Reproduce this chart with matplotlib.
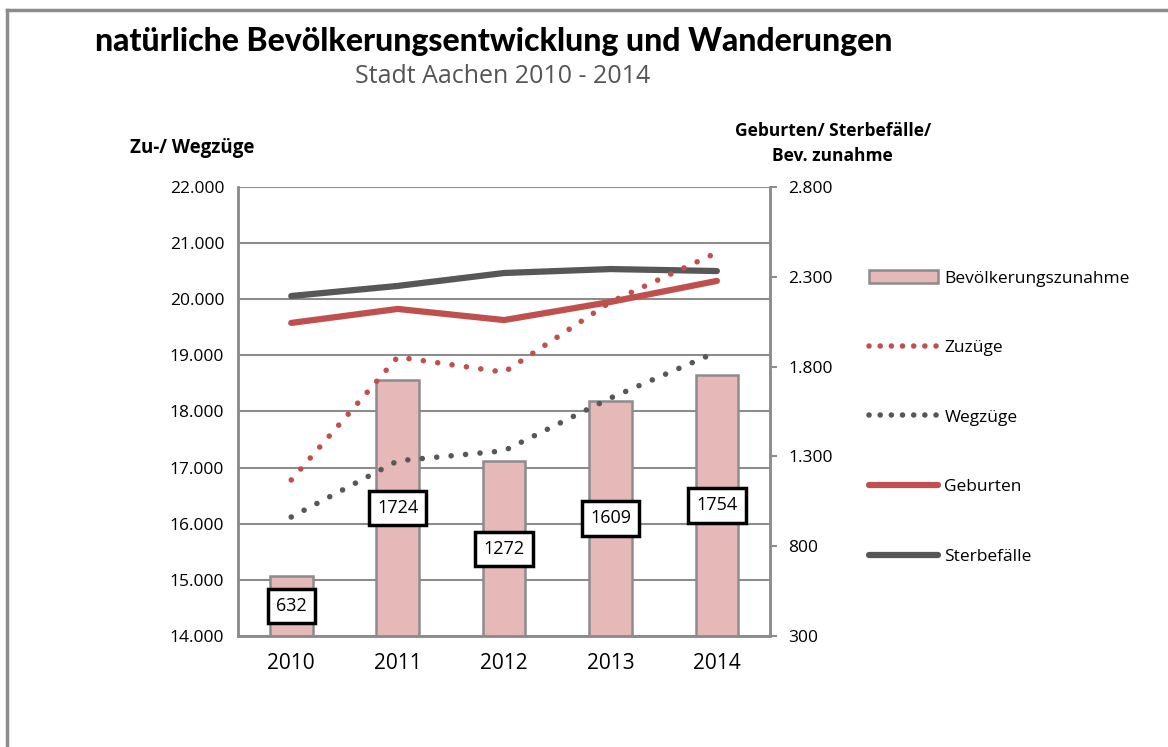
import numpy as np
import matplotlib.pyplot as plt
from matplotlib.lines import Line2D
from matplotlib.patches import Patch

# Daten
jahre = ["2010", "2011", "2012", "2013", "2014"]
bev_zunahme = [632, 1724, 1272, 1609, 1754]
zuzuege = [16780, 18970, 18700, 19950, 20830]
wegzuege = [16120, 17120, 17300, 18240, 19060]
geburten = [2043, 2121, 2059, 2160, 2277]
sterbefaelle = [2193, 2249, 2321, 2343, 2332]

rot = "#C0504D"
grau = "#575757"
rahmen = "#8c8c8c"
punkte = (0, (0.01, 2.6))
punkte_legende = (0, (0.01, 2.0))
plt.rcParams['font.family'] = ["Open Sans", "DejaVu Sans"]

fig = plt.figure(figsize=(11.68, 7.47), dpi=100)
ax = fig.add_axes([0.2038, 0.1486, 0.4555, 0.6011])
ax2 = ax.twinx()
# eigene Achse fuer die gepunkteten Linien (liegt ueber den Balken)
ax3 = fig.add_axes(ax.get_position(), sharex=ax)
ax3.axis("off")

x = np.arange(len(jahre))

# linke Achse: Zu-/ Wegzuege
ax.set_ylim(14000, 22000)
ax3.set_ylim(14000, 22000)
ax.set_xlim(-0.5, 4.5)
ax.set_yticks(np.arange(14000, 22001, 1000))
ax.set_yticklabels([f"{v:,}".replace(",", ".") for v in range(14000, 22001, 1000)], fontsize=12.5)
ax.yaxis.grid(True, color=rahmen, lw=1.5)
ax.set_axisbelow(True)
ax.tick_params(axis="y", length=0, pad=10)
ax.set_xticks(x)
ax.set_xticklabels(jahre, fontsize=15)
ax.tick_params(axis="x", length=0, pad=12)

# rechte Achse: Geburten/ Sterbefaelle/ Bev. zunahme
ax2.set_ylim(300, 2800)
ax2.set_yticks(np.arange(300, 2801, 500))
ax2.set_yticklabels([f"{v:,}".replace(",", ".") for v in range(300, 2801, 500)], fontsize=12.5)
ax2.tick_params(axis="y", length=5, width=1.5, color=rahmen, pad=8)

for a in (ax, ax2):
    for s in a.spines.values():
        s.set_color(rahmen)
        s.set_linewidth(1.8)
    a.spines["top"].set_visible(False)

# Balken auf der rechten Achse
ax2.bar(x, np.array(bev_zunahme) - 300, bottom=300, width=0.4,
        color="#E6B9B8", edgecolor=rahmen, linewidth=1.8, zorder=1)

# Linien
ax2.plot(x, sterbefaelle, color=grau, lw=4.5, solid_capstyle="round", zorder=3)
ax2.plot(x, geburten, color=rot, lw=4.5, solid_capstyle="round", zorder=3)
ax3.plot(x, zuzuege, color=rot, lw=4, linestyle=punkte, dash_capstyle="round")
ax3.plot(x, wegzuege, color=grau, lw=4, linestyle=punkte, dash_capstyle="round")

# Datenbeschriftungen
ax4 = fig.add_axes(ax.get_position(), sharex=ax)
ax4.axis("off")
ax4.set_ylim(300, 2800)
for xi, v in zip(x, bev_zunahme):
    ax4.text(xi, 300 + (v - 300) / 2, str(v), ha="center", va="center", fontsize=13,
             bbox=dict(boxstyle="square,pad=0.45", fc="white", ec="black", lw=2.5))

# Titel
fig.text(0.081, 0.945, "natürliche Bevölkerungsentwicklung und Wanderungen",
         fontsize=23, fontweight="black", family=["Lato", "DejaVu Sans"], va="center")
fig.text(0.43, 0.897, "Stadt Aachen 2010 - 2014", fontsize=18, color="#555555",
         va="center", ha="center")
fig.text(0.111, 0.802, "Zu-/ Wegzüge", fontsize=13.5, fontweight="bold", va="center")
fig.text(0.713, 0.808, "Geburten/ Sterbefälle/\nBev. zunahme", fontsize=12.5,
         fontweight="bold", va="center", ha="center", linespacing=1.5)

# Legende
handles = [
    Patch(facecolor="#E6B9B8", edgecolor=rahmen, linewidth=1.8),
    Line2D([], [], color=rot, lw=4, linestyle=punkte_legende, dash_capstyle="round"),
    Line2D([], [], color=grau, lw=4, linestyle=punkte_legende, dash_capstyle="round"),
    Line2D([], [], color=rot, lw=4.5, solid_capstyle="round"),
    Line2D([], [], color=grau, lw=4.5, solid_capstyle="round"),
]
labels = ["Bevölkerungszunahme", "Zuzüge", "Wegzüge", "Geburten", "Sterbefälle"]
fig.legend(handles, labels, loc="upper left", bbox_to_anchor=(0.738, 0.648),
           frameon=False, fontsize=12.5, handlelength=4.0, handleheight=0.8,
           labelspacing=3.05, handletextpad=0.35, borderaxespad=0)

# Rahmen oben und links
fig.add_artist(Line2D([0.006, 0.006], [0, 0.987], color=rahmen, lw=2.5))
fig.add_artist(Line2D([0.006, 1], [0.987, 0.987], color=rahmen, lw=2.5))

fig.savefig("out.png", dpi=100)
